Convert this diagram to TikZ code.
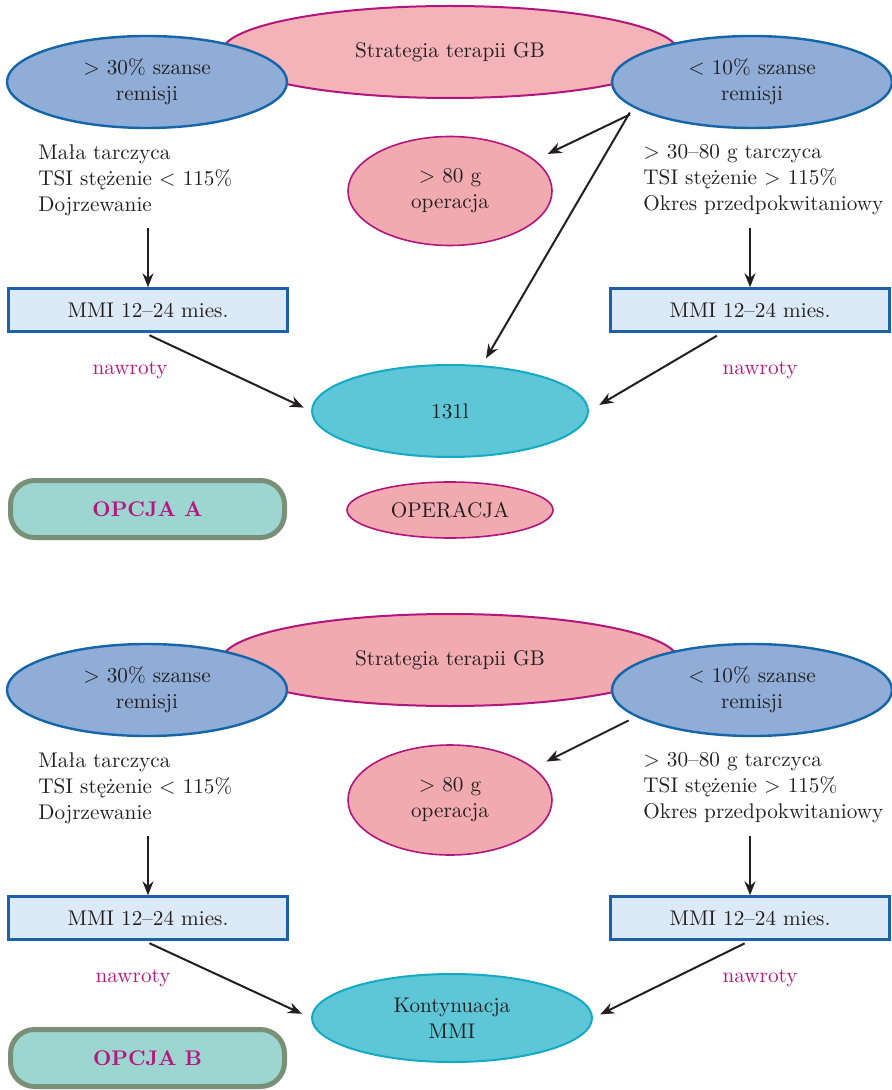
\documentclass[tikz,border=0pt]{standalone}
\usepackage{xcolor}
\usepackage{tikz}
\usetikzlibrary{arrows.meta,shapes.geometric}

\definecolor{pinkfill}{HTML}{F1AAB0}
\definecolor{pinklight}{HTML}{F4B3B8}
\definecolor{pinkline}{HTML}{B3157E}
\definecolor{bluefill}{HTML}{8FADD6}
\definecolor{blueline}{HTML}{1565A9}
\definecolor{boxfill}{HTML}{DCE9F6}
\definecolor{boxline}{HTML}{1D62A8}
\definecolor{tealfill}{HTML}{5DC6D7}
\definecolor{tealline}{HTML}{14A9C4}
\definecolor{opcjafill}{HTML}{9DD6D1}
\definecolor{opcjaline}{HTML}{7A8F77}
\definecolor{nawcolor}{HTML}{B5177F}
\definecolor{textgray}{HTML}{231F20}

\begin{document}
\begin{tikzpicture}[x=0.5pt, y=-0.5pt,
    every node/.style={font=\fontsize{10.6}{13}\selectfont, text=textgray, inner sep=0pt},
    strat/.style={ellipse, draw=pinkline, fill=pinkfill, line width=1pt, minimum width=228pt, minimum height=46pt},
    remis/.style={ellipse, draw=blueline, fill=bluefill, line width=1.2pt, minimum width=140pt, minimum height=46pt, align=center},
    oper/.style={ellipse, draw=pinkline, fill=pinkfill, line width=0.8pt, align=center},
    mmi/.style={rectangle, draw=boxline, fill=boxfill, line width=1.2pt, minimum width=139.5pt, minimum height=21.5pt},
    wynik/.style={ellipse, draw=tealline, fill=tealfill, line width=1pt, align=center},
    cond/.style={anchor=west, align=left},
    naw/.style={text=nawcolor},
    opcja/.style={rectangle, rounded corners=12pt, draw=opcjaline, fill=opcjafill, line width=2.5pt,
        minimum width=137pt, minimum height=28.5pt, font=\fontsize{10.6}{13}\selectfont\bfseries, text=nawcolor},
    arr/.style={-{Stealth[length=7pt, width=5.5pt]}, line width=1pt, draw=textgray}
]
    \useasboundingbox (0,0) rectangle (892,1090);

    % Opcja A
    \node[strat, fill=pinklight] (stratA) at (450,52) {Strategia terapii GB};
    \node[remis] (remHiA) at (147,82) {> 30\% szanse\\remisji};
    \node[remis] (remLoA) at (752,82) {< 10\% szanse\\remisji};

    \node[cond] (condLoA) at (38,180) {Mała tarczyca\\TSI stężenie < 115\%\\Dojrzewanie};
    \node[cond] (condHiA) at (643,180) {> 30–80 g tarczyca\\TSI stężenie > 115\%\\Okres przedpokwitaniowy};
    \node[oper, minimum width=102pt, minimum height=54.5pt] (opA) at (450,191) {> 80 g\\operacja};

    \node[mmi] (mmiLA) at (148,310) {MMI 12–24 mies.};
    \node[mmi] (mmiRA) at (750,310) {MMI 12–24 mies.};
    \node[naw] (nawLA) at (130,370) {nawroty};
    \node[naw] (nawRA) at (760,370) {nawroty};

    \node[wynik, minimum width=138pt, minimum height=46pt] (jodA) at (450,411) {131l};
    \node[opcja] (opcjaA) at (147.5,509) {OPCJA\hspace{4pt}A};
    \node[oper, minimum width=103pt, minimum height=28pt] (operA) at (450,510) {OPERACJA};

    \draw[arr, shorten <=6pt] (condLoA.south -| mmiLA.north) -- (mmiLA.north);
    \draw[arr, shorten <=6pt] (condHiA.south -| mmiRA.north) -- (mmiRA.north);
    \draw[arr, shorten <=5pt, shorten >=7pt] (remLoA.194) -- (opA.20);
    \draw[arr, shorten <=3pt, shorten >=4pt] (remLoA.192) -- (jodA.55);
    \draw[arr, shorten <=3pt, shorten >=4pt] ([xshift=-2pt]mmiLA.south) -- (jodA.west);
    \draw[arr, shorten <=3pt, shorten >=6pt] ([xshift=-14pt]mmiRA.south) -- (jodA.east);

    % Opcja B
    \node[strat] (stratB) at (450,660) {Strategia terapii GB};
    \node[remis] (remHiB) at (147,690) {> 30\% szanse\\remisji};
    \node[remis] (remLoB) at (752,690) {< 10\% szanse\\remisji};

    \node[cond] (condLoB) at (38,788) {Mała tarczyca\\TSI stężenie < 115\%\\Dojrzewanie};
    \node[cond] (condHiB) at (643,788) {> 30–80 g tarczyca\\TSI stężenie > 115\%\\Okres przedpokwitaniowy};
    \node[oper, minimum width=102pt, minimum height=55pt] (opB) at (450,800) {> 80 g\\operacja};

    \node[mmi] (mmiLB) at (148,918) {MMI 12–24 mies.};
    \node[mmi] (mmiRB) at (750,918) {MMI 12–24 mies.};
    \node[naw] (nawLB) at (133,978) {nawroty};
    \node[naw] (nawRB) at (760,978) {nawroty};

    \node[wynik, minimum width=140pt, minimum height=44pt] (kontB) at (452,1018) {Kontynuacja\\MMI};
    \node[opcja] (opcjaB) at (147.5,1058) {OPCJA\hspace{4pt}B};

    \draw[arr, shorten <=6pt] (condLoB.south -| mmiLB.north) -- (mmiLB.north);
    \draw[arr, shorten <=6pt] (condHiB.south -| mmiRB.north) -- (mmiRB.north);
    \draw[arr, shorten <=4pt, shorten >=7pt] (remLoB.193) -- (opB.21);
    \draw[arr, shorten <=3pt, shorten >=5pt] ([xshift=-2pt]mmiLB.south) -- (kontB.west);
    \draw[arr, shorten <=3pt, shorten >=4pt] (mmiRB.south) -- (kontB.east);
\end{tikzpicture}
\end{document}
